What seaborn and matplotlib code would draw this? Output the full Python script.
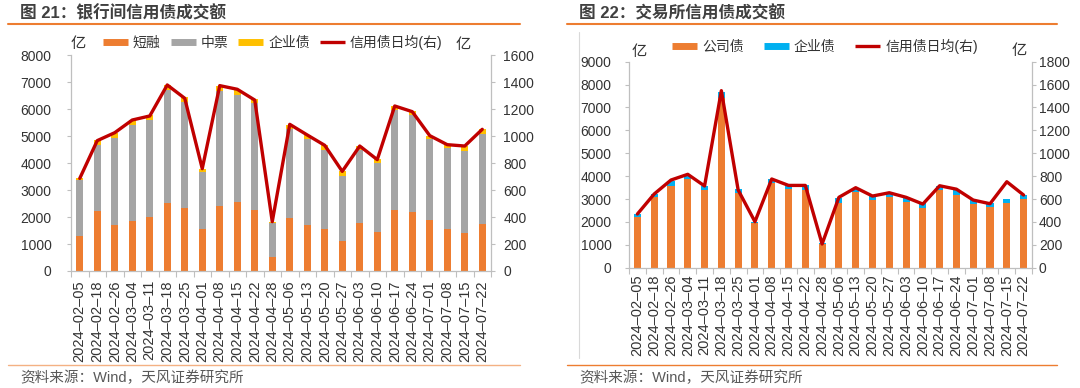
import matplotlib as mpl
import matplotlib.pyplot as plt
import numpy as np
import seaborn as sns
from matplotlib.lines import Line2D

# weekly dates (shared by both panels)
dates = ["2024-02-05", "2024-02-18", "2024-02-26", "2024-03-04", "2024-03-11", "2024-03-18",
         "2024-03-25", "2024-04-01", "2024-04-08", "2024-04-15", "2024-04-22", "2024-04-28",
         "2024-05-06", "2024-05-13", "2024-05-20", "2024-05-27", "2024-06-03", "2024-06-10",
         "2024-06-17", "2024-06-24", "2024-07-01", "2024-07-08", "2024-07-15", "2024-07-22"]

# panel 21: interbank (亿)
ib_short = [1280, 2210, 1690, 1870, 2010, 2510, 2350, 1570, 2410, 2560, 2280, 510,
            1950, 1710, 1550, 1110, 1770, 1460, 2260, 2200, 1890, 1570, 1400, 1740]
ib_mtn = [2080, 2460, 3230, 3550, 3590, 4200, 3930, 2115, 4280, 3970, 3945, 1270,
          3300, 3180, 2940, 2420, 2720, 2535, 3710, 3585, 2990, 2980, 3055, 3330]
ib_ent = [90, 186, 186, 185, 173, 186, 161, 111, 186, 185, 148, 55,
          161, 161, 174, 161, 149, 148, 149, 148, 136, 136, 186, 185]
ib_daily = [687, 967, 1026, 1120, 1150, 1380, 1281, 759, 1375, 1348, 1268, 366,
            1088, 1009, 932, 739, 927, 826, 1224, 1182, 1004, 937, 927, 1051]

# panel 22: exchange (亿)
ex_corp = [2230, 3100, 3570, 3860, 3390, 7400, 3250, 1940, 3680, 3420, 3390, 1030,
           2840, 3290, 2960, 3100, 2880, 2620, 3390, 3180, 2780, 2640, 2840, 2990]
ex_ent = [130, 120, 230, 190, 200, 290, 170, 45, 190, 175, 205, 30,
          205, 175, 175, 175, 160, 190, 175, 215, 175, 170, 160, 190]
ex_daily = [469, 644, 766, 816, 714, 1547, 679, 402, 775, 719, 719, 207,
            615, 699, 626, 655, 615, 556, 716, 686, 591, 559, 751, 635]

ORANGE = "#ED7D31"
GRAY = "#A5A5A5"
YELLOW = "#FFC000"
BLUE = "#00B0F0"
RED = "#C00000"
SPINE = "#BFBFBF"
TXT = "#333333"

sns.set_theme(style="white")
plt.rcParams["font.family"] = ["Liberation Sans", "Noto Sans CJK SC"]

W, H = 1080, 388
fig = plt.figure(figsize=(W / 100, H / 100), dpi=100)


def px(x, y):
    return x / W, 1 - y / H


def setup_axes(ax, ax2, ymax_l, ymax_r, step_r, lpad, rpad, xpad):
    n = len(dates)
    ax.set_xlim(-0.5, n - 0.5)
    ax.set_ylim(0, ymax_l)
    ax.set_yticks(np.arange(0, ymax_l + 1, 1000))
    ax2.set_ylim(0, ymax_r)
    ax2.set_yticks(np.arange(0, ymax_r + 1, step_r))
    ax.set_xticks(range(n))
    # the source renders the date separators as long dashes
    ax.set_xticklabels([d.replace("-", "\u2013") for d in dates], rotation=90)
    ax.set_xticks(np.arange(-0.5, n, 1), minor=True)
    ax.tick_params(axis="x", which="major", length=0, pad=xpad, labelsize=10.5, colors=TXT)
    ax.tick_params(axis="x", which="minor", length=4, width=0.8, color=SPINE, bottom=True)
    ax.tick_params(axis="y", length=3, width=0.8, color=SPINE, pad=lpad, labelsize=10,
                   labelcolor=TXT, left=True)
    ax2.tick_params(axis="y", length=3, width=0.8, color=SPINE, pad=rpad, labelsize=10,
                    labelcolor=TXT, right=True)
    for s in ["top", "right"]:
        ax.spines[s].set_visible(False)
    for s in ["top", "left", "bottom"]:
        ax2.spines[s].set_visible(False)
    for s in ["left", "bottom"]:
        ax.spines[s].set_color(SPINE)
        ax.spines[s].set_linewidth(0.9)
    ax2.spines["right"].set_color(SPINE)
    ax2.spines["right"].set_linewidth(0.9)
    ax.set_xlabel("")
    ax.set_ylabel("")
    ax2.set_xlabel("")
    ax2.set_ylabel("")
    ax.grid(False)
    ax2.grid(False)


# ---------------- panel 21 ----------------
ax = fig.add_axes([71 / W, 1 - 271 / H, 420 / W, (271 - 55.3) / H])
ib_gray_top = np.array(ib_short) + np.array(ib_mtn)
ib_total = ib_gray_top + np.array(ib_ent)
bw = 0.42
sns.barplot(x=dates, y=ib_total, color=YELLOW, saturation=1, width=bw, linewidth=0,
            errorbar=None, ax=ax)
sns.barplot(x=dates, y=ib_gray_top, color=GRAY, saturation=1, width=bw, linewidth=0,
            errorbar=None, ax=ax)
sns.barplot(x=dates, y=ib_short, color=ORANGE, saturation=1, width=bw, linewidth=0,
            errorbar=None, ax=ax)
ax2 = ax.twinx()
sns.lineplot(x=np.arange(len(dates)), y=ib_daily, color=RED, linewidth=2.4, ax=ax2)
setup_axes(ax, ax2, 8000, 1600, 200, lpad=11, rpad=6, xpad=6.5)

# ---------------- panel 22 ----------------
bx = fig.add_axes([629 / W, 1 - 267.7 / H, 403 / W, 206 / H])
ex_total = np.array(ex_corp) + np.array(ex_ent)
sns.barplot(x=dates, y=ex_total, color=BLUE, saturation=1, width=bw, linewidth=0,
            errorbar=None, ax=bx)
sns.barplot(x=dates, y=ex_corp, color=ORANGE, saturation=1, width=bw, linewidth=0,
            errorbar=None, ax=bx)
bx2 = bx.twinx()
sns.lineplot(x=np.arange(len(dates)), y=ex_daily, color=RED, linewidth=2.4, ax=bx2)
setup_axes(bx, bx2, 9000, 1800, 200, lpad=9.5, rpad=2, xpad=5)

# ---------------- legends ----------------
def bar_handle(c):
    return Line2D([], [], color=c, lw=5, solid_capstyle="butt")


red_handle = Line2D([], [], color=RED, lw=2.4, solid_capstyle="butt")
fig.legend([bar_handle(ORANGE), bar_handle(GRAY), bar_handle(YELLOW), red_handle],
           ["短融", "中票", "企业债", "信用债日均(右)"],
           loc="center left", bbox_to_anchor=px(103, 42), ncol=4, frameon=False,
           fontsize=10, handlelength=1.8, handletextpad=0.35, columnspacing=0.72,
           borderpad=0, borderaxespad=0, labelcolor=TXT)
fig.legend([bar_handle(ORANGE), bar_handle(BLUE), red_handle],
           ["公司债", "企业债", "信用债日均(右)"],
           loc="center left", bbox_to_anchor=px(672, 46), ncol=3, frameon=False,
           fontsize=10, handlelength=1.8, handletextpad=0.35, columnspacing=1.45,
           borderpad=0, borderaxespad=0, labelcolor=TXT)

# unit labels
for (x, y) in [(78, 44), (463, 45), (639, 52), (1019, 51)]:
    fig.text(*px(x, y), "亿", fontsize=11, color=TXT, ha="center", va="center")

# titles, rules and source notes
fig.text(*px(20, 13), "图 21：银行间信用债成交额", fontsize=12, fontweight="bold",
         color="#404040", va="center")
fig.text(*px(579, 13), "图 22：交易所信用债成交额", fontsize=12, fontweight="bold",
         color="#404040", va="center")
fig.add_artist(Line2D([8 / W, 520 / W], [1 - 24 / H] * 2, color=ORANGE, lw=1.5))
fig.add_artist(Line2D([567 / W, 1057 / W], [1 - 24 / H] * 2, color=ORANGE, lw=1.5))
fig.add_artist(Line2D([8 / W, 520 / W], [1 - 365 / H] * 2, color="#F4B183", lw=1))
fig.add_artist(Line2D([567 / W, 1057 / W], [1 - 365 / H] * 2, color=ORANGE, lw=1))
fig.add_artist(Line2D([579 / W, 579 / W], [1 - 32 / H, 1 - 358 / H], color="#D9D9D9", lw=0.8))
fig.text(*px(20, 378), "资料来源：Wind，天风证券研究所", fontsize=10.5, color="#595959",
         va="center")
fig.text(*px(579, 378), "资料来源：Wind，天风证券研究所", fontsize=10.5, color="#595959",
         va="center")

fig.savefig("out.png", dpi=100)
